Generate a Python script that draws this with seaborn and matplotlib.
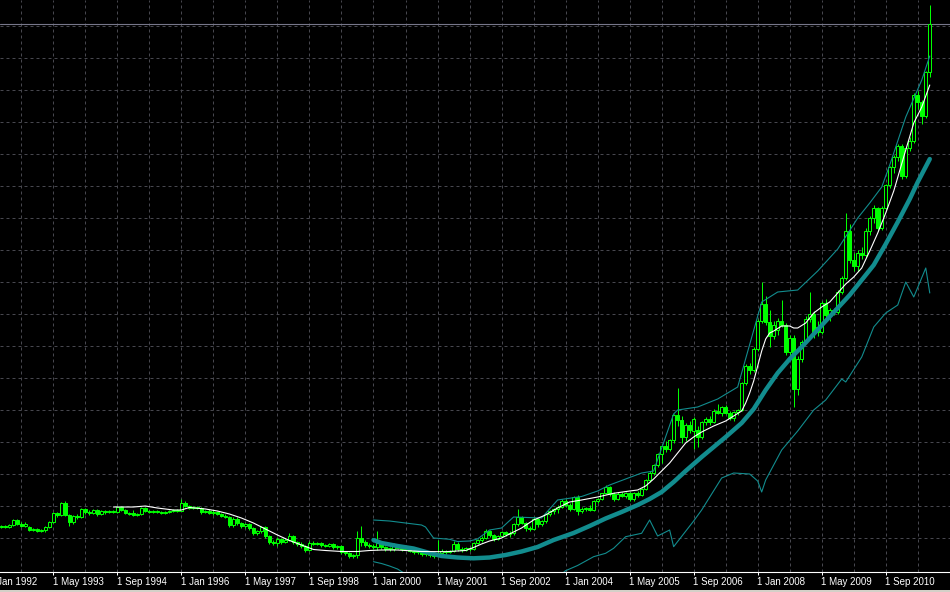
import numpy as np
import pandas as pd
import matplotlib
matplotlib.use("Agg")
import matplotlib.pyplot as plt
from matplotlib.patches import Rectangle
import seaborn as sns

# ---------------- data (monthly candles, months counted from Jan 1992) ----------------
first_month = 3  # Apr 1992

open_ = [44,45,44,46,51,47,45,44,41,42,40,41,
         44,49,58,56,68,56,49,55,54,62,59,58,
         61,57,60,59,60,59,64,61,58,58,56,57,
         63,60,59,60,59,58,59,60,61,60,68,65,
         63,64,63,59,60,58,59,57,55,54,46,52,
         48,45,47,43,38,40,44,35,29,28,32,29,
         31,35,29,27,25,21,28,27,28,26,25,27,
         24,25,19,18,15,16,33,29,26,25,24,28,
         24,22,22,26,23,22,24,20,19,20,17,18,
         16,15,18,20,19,20,27,22,21,23,22,28,
         31,33,40,36,32,35,39,37,38,47,54,48,
         43,42,52,47,50,57,60,62,64,70,66,62,
         74,60,62,63,61,70,72,78,84,77,72,77,
         75,78,72,78,76,82,91,98,106,117,125,122,
         131,156,151,134,146,140,141,134,149,152,149,160,
         158,164,158,153,159,161,188,205,201,222,250,267,
         249,235,241,250,246,219,233,182,212,229,252,257,
         244,239,268,256,261,259,279,293,340,311,305,318,
         316,340,353,363,343,363,386,404,414,425,395,423,
         430,476,469,455,499]
high = [46,46,47,52,52,49,49,45,43,43,42,45,
        50,59,59,69,70,57,56,57,63,63,61,62,
        62,61,61,61,61,65,65,62,59,61,58,64,
        64,61,61,61,60,60,61,62,62,72,70,66,
        65,65,64,61,62,61,60,58,57,55,54,54,
        49,48,48,44,41,45,45,36,31,34,33,33,
        38,36,30,29,26,30,30,29,29,27,28,28,
        26,26,20,19,17,40,45,31,28,27,40,29,
        25,24,28,27,24,25,24,22,21,21,19,19,
        17,31,22,21,21,30,29,24,24,24,29,32,
        35,42,41,37,36,40,40,40,48,62,55,49,
        45,54,53,51,58,61,63,66,72,72,68,75,
        76,64,64,66,71,73,78,86,85,79,79,79,
        79,79,79,80,83,92,100,107,118,127,130,132,
        157,183,155,148,150,154,145,150,154,155,162,167,
        165,166,160,160,162,189,207,208,224,252,289,275,
        261,250,253,271,248,236,236,215,231,255,279,260,
        250,270,272,263,263,281,295,358,347,318,321,324,
        343,355,366,364,365,387,405,416,427,427,424,434,
        478,480,471,500,566]
low = [43,43,43,45,46,44,44,40,40,39,39,39,
       43,48,54,55,55,45,47,52,53,57,56,57,
       55,56,57,58,58,58,60,57,56,55,55,56,
       59,58,58,58,57,57,58,59,59,60,64,62,
       62,62,57,58,57,56,56,54,53,44,44,46,
       43,43,41,36,36,38,33,27,26,25,27,28,
       30,27,25,23,19,20,26,26,24,24,24,22,
       22,17,16,13,13,13,25,24,23,22,21,22,
       20,20,20,22,20,21,19,17,17,15,15,14,
       13,14,17,17,18,19,20,19,20,20,21,27,
       29,32,34,30,31,34,35,34,36,45,47,40,
       40,41,44,45,48,55,57,58,63,64,60,61,
       56,58,60,60,60,68,71,77,75,70,71,74,
       73,70,70,74,75,81,89,96,104,108,119,120,
       128,145,128,130,138,122,124,132,146,146,148,157,
       155,157,151,150,156,160,186,197,199,220,248,246,
       224,232,236,244,216,214,164,176,209,228,249,233,
       235,237,254,250,256,257,277,291,308,300,300,312,
       314,336,348,340,341,361,383,398,410,392,393,420,
       428,462,447,453,494]
close = [45,44,46,51,47,45,47,41,42,40,41,44,
         49,58,56,68,56,49,55,54,62,59,58,61,
         57,60,59,60,59,64,61,58,57,56,57,63,
         60,59,60,59,58,59,60,61,60,68,65,63,
         64,63,59,60,58,59,57,55,54,46,52,48,
         45,47,43,38,40,44,35,29,28,32,29,31,
         35,29,27,25,21,28,27,28,26,25,27,24,
         25,19,18,15,16,33,29,26,25,24,28,24,
         22,23,26,23,22,24,20,19,20,17,18,16,
         15,18,20,19,20,27,22,21,23,22,28,31,
         33,40,36,32,35,39,37,38,47,54,48,43,
         42,52,47,50,57,60,62,64,70,66,62,74,
         60,62,63,61,70,72,78,84,77,72,77,75,
         78,72,78,76,82,91,98,106,117,125,122,131,
         156,151,134,146,141,152,134,149,152,149,160,158,
         164,158,153,159,161,188,205,201,222,250,267,249,
         235,246,250,246,219,233,182,212,229,252,257,238,
         239,268,256,261,259,279,293,340,311,305,318,316,
         340,353,363,343,363,386,404,414,425,395,423,430,
         476,469,455,499,547]

# white moving-average line
white_month = [31,36,39,42,46,48,50,54,57,60,63,66,69,72,75,78,81,84,88,92,
               95,98,102,108,114,119,121,123,125,128,130,133,136,139,142,145,148,152,156,160,
               162,164,166,168,170,172,174,176,178,181,184,186,188,189,190,191,192,193,194,195,
               196,198,200,201,202,204,206,208,210,212,214,216,218,220,222,224,226,229,231,233,235]
white_value = [64,64,65,63,61,61,63.5,62,60,57,53,48,42,36,30.5,26,21.5,20.5,19.5,19.5,
               20.5,21,21,19.5,19.3,20.5,23.5,27,30,33,37,43,51,56,63,69,71,74,77.7,80,
               81,85,92,100,108,118,128,134,139,145,150,155,160,168,178,190,205,220,232,238,
               240,245,245,243,243,248,258,264,269,278,287,294,303,320,338,358,380,421,448,464,486]

# thick teal moving average
thick_month = [96,98,102,106,110,113,117,121,125,129,133,137,141,146,150,154,158,162,165,168,
               171,174,178,181,184,188,191,194,197,200,203,206,209,212,215,218,221,224,227,230,232,235]
thick_value = [31,28,25,22.5,18,15,13.5,12.7,13.5,16,19.5,24,31,38,45,52.5,59,66,72,79,
               89,100,114,124,134,148,162,181,198,212,224,237,250,263,276,291,306,327,349,372,389,412]

# thin teal upper band
upper_month = [96,100,104,108,109,111,115,117,120,122,125,128,131,138,142,148,152,155,159,163,
               166,171,172,177,182,187,193,197,202,207,212,217,220,223,225,229,233,235]
upper_value = [51,50,48,46,44,33,31.7,29.5,30,32,41,43,54,53,71,74.5,80,86,92,98,
               100,157,161,164,172,184,269,279,281,300,322,353,368,384,406,454,491,515]

# thin teal lower band (two visible stretches)
lower1_month = [96,98,100,102,104]
lower1_value = [9.3,7.5,5,2,-3]
lower2_month = [143,144,147,151,154,156,159,163,165,167,170,171,176,178,183,186,190,192,193,194,
                196,198,202,206,209,213,214,218,221,224,227,229,231,234,235]
lower2_value = [-3,0.3,5.5,14.3,17.7,22.7,34.3,37.7,51,35,41,24.3,50,61,93,98,97,90,79,91,
                106,121,140,161,171,192,189,214,244,258,266,289,274,303,278]

bid_price = 547

tick_months = [0,16,32,48,64,80,96,112,128,144,160,176,192,208,224]
tick_labels = ["1 Jan 1992","1 May 1993","1 Sep 1994","1 Jan 1996","1 May 1997",
               "1 Sep 1998","1 Jan 2000","1 May 2001","1 Sep 2002","1 Jan 2004",
               "1 May 2005","1 Sep 2006","1 Jan 2008","1 May 2009","1 Sep 2010"]

# ---------------- styling ----------------
sns.set_theme(style="dark")
plt.rcParams['font.family'] = ['Liberation Sans', 'DejaVu Sans']

LIME = "#00ff00"
TEAL = "#128c8e"
GRID = "#47474e"

n = min(len(open_), len(high), len(low), len(close))
df = pd.DataFrame({
    "month": np.arange(first_month, first_month + n),
    "open": open_[:n], "high": high[:n], "low": low[:n], "close": close[:n],
})
df["bull"] = df["close"] >= df["open"]
df["body_lo"] = df[["open", "close"]].min(axis=1)
df["body_h"] = (df["close"] - df["open"]).abs().clip(lower=0.6)

W, H = 950, 592
fig = plt.figure(figsize=(W / 100, H / 100), dpi=100, facecolor="black")
axis_px = 572.3
ax = fig.add_axes([0, (H - axis_px) / H, 1, axis_px / H])
ax.set_facecolor("black")

xmin = (0 + 10.7) / 4.002
xmax = (W + 10.7) / 4.002
ax.set_xlim(xmin, xmax)
ax.set_ylim(-1.3, 571)

# grid
px = 0.72
for gm in range(8, 241, 8):
    ax.axvline(gm, color=GRID, lw=px, ls=(0, (3, 3)), zorder=0)
for k in range(1, 18):
    ax.axhline(0.7 + 32 * k, color=GRID, lw=px, ls=(0, (3, 3)), zorder=0)

# bid line
ax.axhline(bid_price, color="#77778a", lw=0.8, zorder=1)

# candles
ax.vlines(df["month"], df["low"], df["high"], color=LIME, lw=px, zorder=2)
bull = df[df["bull"]]
bear = df[~df["bull"]]
ax.bar(bull["month"], bull["body_h"], bottom=bull["body_lo"], width=0.68,
       color="black", edgecolor=LIME, linewidth=px, zorder=3)
ax.bar(bear["month"], bear["body_h"], bottom=bear["body_lo"], width=0.68,
       color=LIME, edgecolor=LIME, linewidth=px, zorder=3)

# indicator lines
def line(m, v, color, lw, z):
    d = pd.DataFrame({"month": m, "value": v})
    sns.lineplot(data=d, x="month", y="value", ax=ax, color=color, linewidth=lw,
                 estimator=None, sort=False, zorder=z, legend=False)

line(thick_month, thick_value, TEAL, 3.2, 4)
line(upper_month, upper_value, TEAL, 0.8, 4)
line(lower1_month, lower1_value, TEAL, 0.8, 4)
line(lower2_month, lower2_value, TEAL, 0.8, 4)
line(white_month, white_value, "white", 0.8, 5)

ax.set_xlabel("")
ax.set_ylabel("")
for s in ["left", "right", "top"]:
    ax.spines[s].set_visible(False)
ax.spines["bottom"].set_visible(True)
ax.spines["bottom"].set_color("white")
ax.spines["bottom"].set_linewidth(0.8)
ax.set_yticks([])
ax.set_xticks([m for m in tick_months if m >= xmin])
ax.tick_params(axis="x", direction="out", length=2.5, width=px, color="white",
               labelbottom=False, bottom=True)

for m, lab in zip(tick_months, tick_labels):
    ax.annotate(lab, xy=(m, 0), xycoords=("data", "axes fraction"),
                xytext=(-0.5, -9.8), textcoords="offset pixels",
                ha="left", va="center", color="white", fontsize=7,
                annotation_clip=False)

# light window border at the very bottom
fig.patches.append(Rectangle((0, 0), 1, 2 / H, transform=fig.transFigure,
                             facecolor="#d4d0c8", edgecolor="none"))

fig.savefig("out.png", dpi=100, facecolor="black")
